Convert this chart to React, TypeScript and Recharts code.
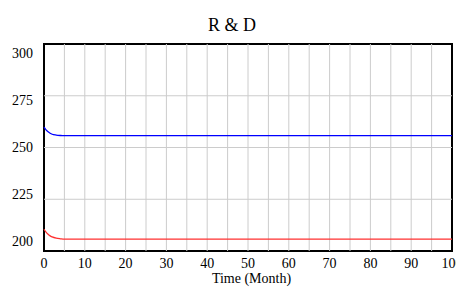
import React from 'react';
import { LineChart, Line, XAxis, YAxis, ReferenceLine, ReferenceArea } from 'recharts';

const months = [0, 0.5, 1, 1.5, 2, 3, 4, 5, 100];
const blueSeries = [259.8, 258.5, 257.6, 256.9, 256.4, 256.0, 255.8, 255.7, 255.7];
const redSeries = [210.5, 209.1, 208.1, 207.3, 206.8, 206.2, 205.9, 205.7, 205.7];
const xTicks = [0, 10, 20, 30, 40, 50, 60, 70, 80, 90, 100];
const yTicks = [200, 225, 250, 275, 300];
const xGrid = [5, 10, 15, 20, 25, 30, 35, 40, 45, 50, 55, 60, 65, 70, 75, 80, 85, 90, 95];
const yGrid = [225, 250, 275];

const data = months.map((t, i) => ({ t, blue: blueSeries[i], red: redSeries[i] }));

const FONT = "'Liberation Serif', serif";

const YTick = (props: any) => {
  const { y, payload } = props;
  const mid = 147.5;
  const ly = y + (mid - y) * 0.096;
  return (
    <text x={33} y={ly} textAnchor="end" dominantBaseline="central" style={{ fontFamily: FONT }} fontSize={14} fill="#000">
      {payload.value}
    </text>
  );
};

const XTick = (props: any) => {
  const { x, y, payload } = props;
  return (
    <text x={x} y={y} dy="0.71em" textAnchor="middle" style={{ fontFamily: FONT }} fontSize={14} fill="#000">
      {payload.value}
    </text>
  );
};

export default function App() {
  return (
    <div style={{ position: 'absolute', left: 0, top: 0, width: 456, height: 289, background: '#fff', fontFamily: FONT }}>
      <div style={{ position: 'absolute', left: 232, top: 16, transform: 'translateX(-50%)', fontFamily: FONT, fontSize: 18, lineHeight: '18px', whiteSpace: 'nowrap', color: '#000' }}>
        R &amp; D
      </div>
      <div style={{ position: 'absolute', left: 251.5, top: 272, transform: 'translateX(-50%)', fontFamily: FONT, fontSize: 14, lineHeight: '14px', whiteSpace: 'nowrap', color: '#000' }}>
        Time (Month)
      </div>
      <LineChart width={456} height={289} data={data} margin={{ top: 44, right: 4, bottom: 0, left: 0 }}>
        <XAxis
          dataKey="t"
          type="number"
          domain={[0, 100]}
          ticks={xTicks}
          interval={0}
          height={38}
          axisLine={false}
          tickLine={false}
          tickMargin={1}
          tick={<XTick />}
        />
        <YAxis
          type="number"
          domain={[200, 300]}
          ticks={yTicks}
          interval={0}
          width={44}
          axisLine={false}
          tickLine={false}
          tick={<YTick />}
        />
        {xGrid.map((v) => (
          <ReferenceLine key={'x' + v} x={v} stroke="#cccccc" strokeWidth={1} />
        ))}
        {yGrid.map((v) => (
          <ReferenceLine key={'y' + v} y={v} stroke="#cccccc" strokeWidth={1} />
        ))}
        <Line type="monotone" dataKey="blue" stroke="#0000ff" strokeWidth={1.3} dot={false} isAnimationActive={false} />
        <Line type="monotone" dataKey="red" stroke="#ff3030" strokeWidth={1.3} dot={false} isAnimationActive={false} />
        <ReferenceArea x1={0} x2={100} y1={200} y2={300} fill="none" stroke="#000" strokeWidth={2} ifOverflow="visible" />
      </LineChart>
    </div>
  );
}
